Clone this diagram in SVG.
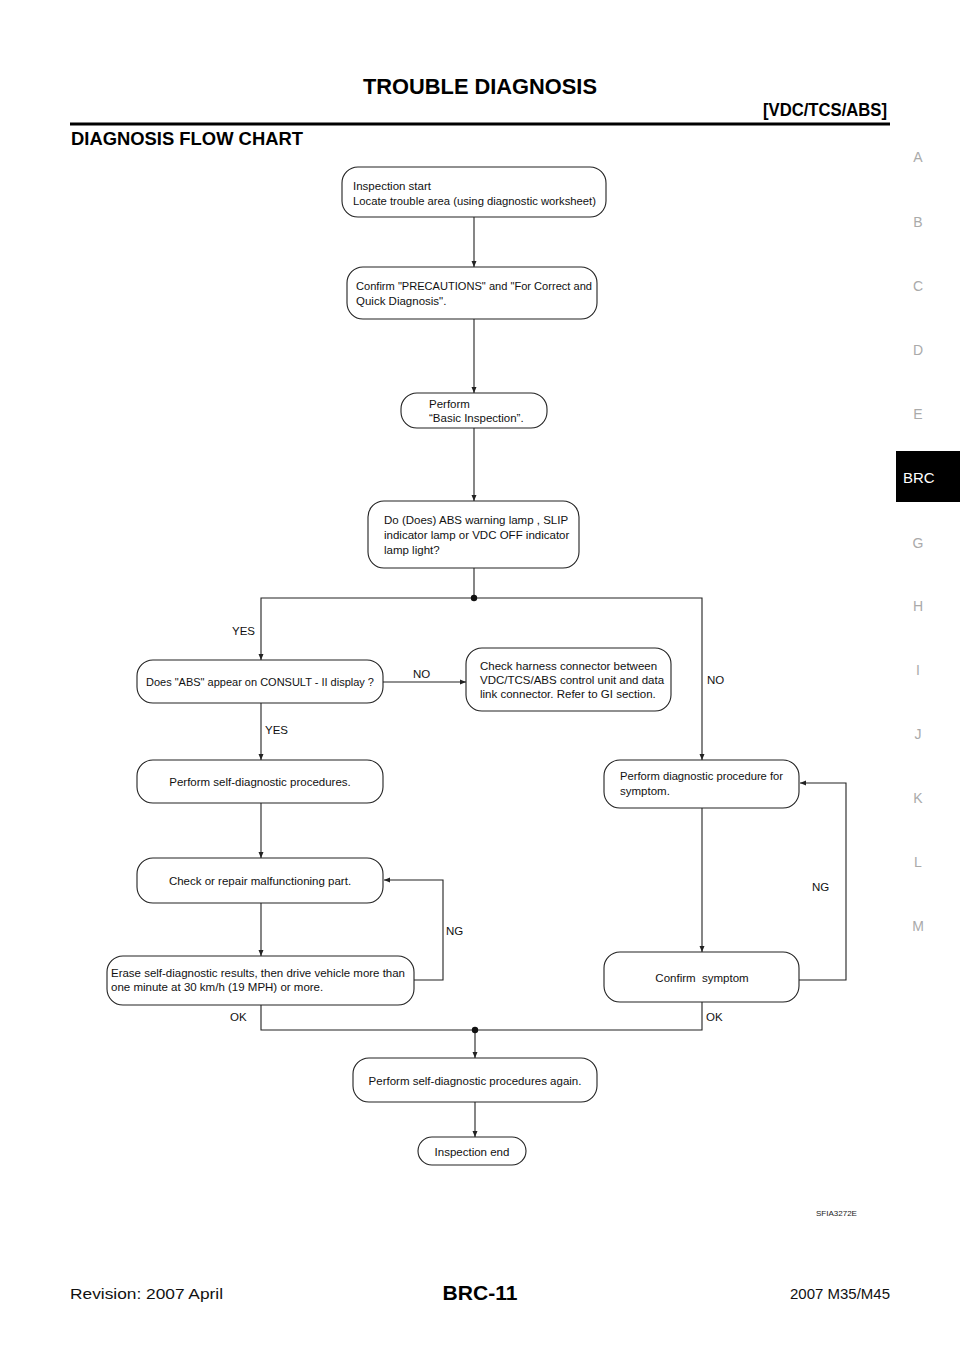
<svg xmlns="http://www.w3.org/2000/svg" width="960" height="1358" viewBox="0 0 960 1358">
<style>
.t{font-family:"Liberation Sans",Arial,sans-serif;font-size:11.5px;fill:#111}
.m{text-anchor:middle}
.box{fill:#fff;stroke:#222;stroke-width:1.1}
.ln{fill:none;stroke:#222;stroke-width:1.1}
.side{font-family:"Liberation Sans",Arial,sans-serif;font-size:14px;fill:#aaa;text-anchor:middle}
.hb{font-family:"Liberation Sans",Arial,sans-serif;font-weight:bold;fill:#000}
</style>
<defs>
<marker id="ah" markerUnits="userSpaceOnUse" markerWidth="7" markerHeight="6" refX="6" refY="3" orient="auto">
<path d="M0,0.5 L6,3 L0,5.5 z" fill="#222"/>
</marker>
</defs>
<rect width="960" height="1358" fill="#fff"/>

<g id="header">
<text class="hb" x="480" y="94" font-size="22" text-anchor="middle" textLength="234" lengthAdjust="spacingAndGlyphs">TROUBLE DIAGNOSIS</text>
<text class="hb" x="887" y="116" font-size="19" text-anchor="end" textLength="124" lengthAdjust="spacingAndGlyphs">[VDC/TCS/ABS]</text>
<rect x="70" y="122.5" width="820" height="3" fill="#000"/>
<text class="hb" x="71" y="145" font-size="19" textLength="232" lengthAdjust="spacingAndGlyphs">DIAGNOSIS FLOW CHART</text>
</g>

<g id="sidebar">
<text class="side" x="918" y="162">A</text>
<text class="side" x="918" y="227">B</text>
<text class="side" x="918" y="291">C</text>
<text class="side" x="918" y="355">D</text>
<text class="side" x="918" y="419">E</text>
<rect x="896" y="451" width="64" height="51" fill="#000"/>
<text x="903" y="483" font-family="Liberation Sans,Arial,sans-serif" font-size="15" fill="#fff">BRC</text>
<text class="side" x="918" y="548">G</text>
<text class="side" x="918" y="611">H</text>
<text class="side" x="918" y="675">I</text>
<text class="side" x="918" y="739">J</text>
<text class="side" x="918" y="803">K</text>
<text class="side" x="918" y="867">L</text>
<text class="side" x="918" y="931">M</text>
</g>

<g id="connectors">
<path class="ln" d="M474,217 V267" marker-end="url(#ah)"/>
<path class="ln" d="M474,319 V393" marker-end="url(#ah)"/>
<path class="ln" d="M474,428 V501" marker-end="url(#ah)"/>
<path class="ln" d="M474,568 V598"/>
<path class="ln" d="M474,598 H261 V660" marker-end="url(#ah)"/>
<path class="ln" d="M474,598 H702 V760" marker-end="url(#ah)"/>
<path class="ln" d="M383,682 H466" marker-end="url(#ah)"/>
<path class="ln" d="M261,703 V760" marker-end="url(#ah)"/>
<path class="ln" d="M261,803 V858" marker-end="url(#ah)"/>
<path class="ln" d="M261,903 V956" marker-end="url(#ah)"/>
<path class="ln" d="M414,980 H443 V880 H384" marker-end="url(#ah)"/>
<path class="ln" d="M702,808 V952" marker-end="url(#ah)"/>
<path class="ln" d="M799,980 H846 V783 H800" marker-end="url(#ah)"/>
<path class="ln" d="M261,1005 V1030 H702 V1002"/>
<path class="ln" d="M475,1030 V1058" marker-end="url(#ah)"/>
<path class="ln" d="M475,1102 V1137" marker-end="url(#ah)"/>
<circle cx="474" cy="598" r="3.2" fill="#111"/>
<circle cx="475" cy="1030" r="3.2" fill="#111"/>
<text class="t" x="232" y="635">YES</text>
<text class="t" x="413" y="678">NO</text>
<text class="t" x="707" y="684">NO</text>
<text class="t" x="265" y="734">YES</text>
<text class="t" x="446" y="935">NG</text>
<text class="t" x="812" y="891">NG</text>
<text class="t" x="230" y="1021">OK</text>
<text class="t" x="706" y="1021">OK</text>
</g>

<g id="n1">
<rect class="box" x="342" y="167" width="264" height="50" rx="16"/>
<text class="t" x="353" y="190">Inspection start</text>
<text class="t" x="353" y="205" textLength="243" lengthAdjust="spacingAndGlyphs">Locate trouble area (using diagnostic worksheet)</text>
</g>
<g id="n2">
<rect class="box" x="347" y="267" width="250" height="52" rx="16"/>
<text class="t" x="356" y="290" textLength="236" lengthAdjust="spacingAndGlyphs">Confirm "PRECAUTIONS" and "For Correct and</text>
<text class="t" x="356" y="305">Quick Diagnosis".</text>
</g>
<g id="n3">
<rect class="box" x="401" y="393" width="146" height="35" rx="16"/>
<text class="t" x="429" y="408">Perform</text>
<text class="t" x="429" y="422">“Basic Inspection”.</text>
</g>
<g id="n4">
<rect class="box" x="368" y="501" width="211" height="67" rx="16"/>
<text class="t" x="384" y="524">Do (Does) ABS warning lamp , SLIP</text>
<text class="t" x="384" y="539">indicator lamp or VDC OFF indicator</text>
<text class="t" x="384" y="554">lamp light?</text>
</g>
<g id="n5">
<rect class="box" x="137" y="660" width="246" height="43" rx="16"/>
<text class="t m" x="260" y="686" textLength="228" lengthAdjust="spacingAndGlyphs">Does "ABS" appear on CONSULT - II display ?</text>
</g>
<g id="n6">
<rect class="box" x="466" y="648" width="205" height="63" rx="16"/>
<text class="t" x="480" y="670">Check harness connector between</text>
<text class="t" x="480" y="684">VDC/TCS/ABS control unit and data</text>
<text class="t" x="480" y="698">link connector. Refer to GI section.</text>
</g>
<g id="n7">
<rect class="box" x="137" y="760" width="246" height="43" rx="16"/>
<text class="t m" x="260" y="786">Perform self-diagnostic procedures.</text>
</g>
<g id="n8">
<rect class="box" x="137" y="858" width="246" height="45" rx="16"/>
<text class="t m" x="260" y="885">Check or repair malfunctioning part.</text>
</g>
<g id="n9">
<rect class="box" x="107" y="956" width="307" height="49" rx="16"/>
<text class="t" x="111" y="977" textLength="294" lengthAdjust="spacingAndGlyphs">Erase self-diagnostic results, then drive vehicle more than</text>
<text class="t" x="111" y="991">one minute at 30 km/h (19 MPH) or more.</text>
</g>
<g id="n10">
<rect class="box" x="604" y="760" width="195" height="48" rx="16"/>
<text class="t" x="620" y="780" textLength="163" lengthAdjust="spacingAndGlyphs">Perform diagnostic procedure for</text>
<text class="t" x="620" y="795">symptom.</text>
</g>
<g id="n11">
<rect class="box" x="604" y="952" width="195" height="50" rx="16"/>
<text class="t m" x="702" y="982" xml:space="preserve">Confirm  symptom</text>
</g>
<g id="n12">
<rect class="box" x="353" y="1058" width="244" height="44" rx="16"/>
<text class="t m" x="475" y="1085">Perform self-diagnostic procedures again.</text>
</g>
<g id="n13">
<rect class="box" x="418" y="1137" width="108" height="28" rx="14"/>
<text class="t m" x="472" y="1156">Inspection end</text>
</g>

<text x="816" y="1216" font-family="Liberation Sans,Arial,sans-serif" font-size="8" fill="#222">SFIA3272E</text>

<g id="footer">
<text x="70" y="1299" font-family="Liberation Sans,Arial,sans-serif" font-size="15" fill="#111" textLength="153" lengthAdjust="spacingAndGlyphs">Revision: 2007 April</text>
<text class="hb" x="480" y="1300" font-size="21" text-anchor="middle" textLength="75" lengthAdjust="spacingAndGlyphs">BRC-11</text>
<text x="890" y="1299" font-family="Liberation Sans,Arial,sans-serif" font-size="15" fill="#111" text-anchor="end" textLength="100" lengthAdjust="spacingAndGlyphs">2007 M35/M45</text>
</g>
</svg>
